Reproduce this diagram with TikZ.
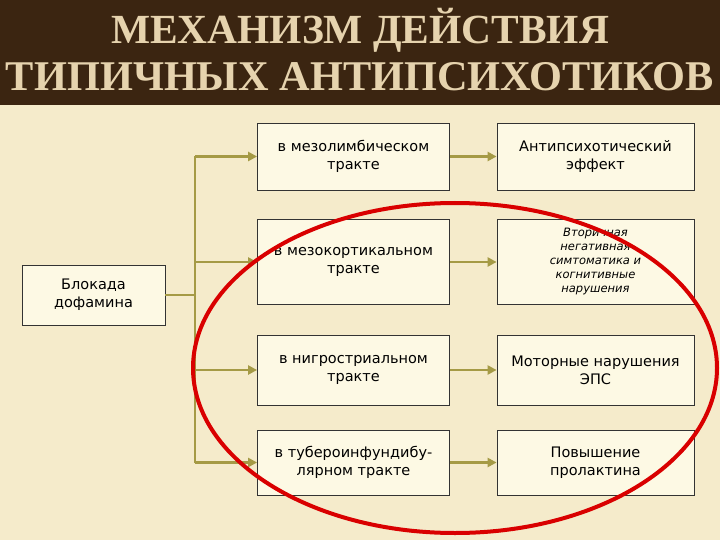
\documentclass[tikz,border=0pt]{standalone}
\usepackage{fontspec}
\setmainfont{DejaVu Sans}
\newfontfamily\titlefont{Liberation Serif}
\usetikzlibrary{arrows.meta}
\definecolor{bg}{HTML}{F5EBCB}
\definecolor{band}{HTML}{3B2511}
\definecolor{tcol}{HTML}{E6D3AE}
\definecolor{boxf}{HTML}{FDF9E4}
\definecolor{olive}{HTML}{A59A45}
\tikzset{
 bx/.style={draw=black!80,fill=boxf,line width=0.8pt,align=center,font=\fontsize{14.5}{18}\selectfont,inner sep=2pt},
 conn/.style={olive,line width=2.8pt},
 arr/.style={conn,-{Triangle[length=9pt,width=9pt]}},
 ttl/.style={font=\titlefont\bfseries\fontsize{38}{40}\selectfont,inner sep=0pt}
}
\begin{document}
\begin{tikzpicture}[x=1pt,y=-1pt]
\useasboundingbox (0,0) rectangle (720,540);
\fill[bg] (0,0) rectangle (720,540);
\fill[band] (0,0) rectangle (720,105);
% title
\node[ttl,text=tcol] (t1) at (360,30) {\resizebox{498pt}{!}{МЕХАНИЗМ ДЕЙСТВИЯ}};
\node[ttl,text=tcol] (t2) at (360,77) {\resizebox{708pt}{!}{ТИПИЧНЫХ АНТИПСИХОТИКОВ}};
% boxes
\node[bx,minimum width=143pt,minimum height=60pt] (L) at (93.5,295) {Блокада\\дофамина};
\node[bx,minimum width=192pt,minimum height=67pt] (m1) at (353.5,156.5) {в мезолимбическом\\тракте};
\node[bx,minimum width=192pt,minimum height=85pt] (m2) at (353.5,262) {в мезокортикальном\\тракте};
\node[bx,minimum width=192pt,minimum height=70pt] (m3) at (353.5,370) {в нигростриальном\\тракте};
\node[bx,minimum width=192pt,minimum height=65pt] (m4) at (353.5,462.5) {в тубероинфундибу-\\лярном тракте};
\node[bx,minimum width=197pt,minimum height=67pt] (r1) at (595.5,156.5) {Антипсихотический\\эффект};
\node[bx,minimum width=197pt,minimum height=85pt,font=\itshape\fontsize{11.5}{14}\selectfont] (r2) at (595.5,262) {Вторичная\\негативная\\симтоматика и\\когнитивные\\нарушения};
\node[bx,minimum width=197pt,minimum height=70pt] (r3) at (595.5,370) {Моторные нарушения\\ЭПС};
\node[bx,minimum width=197pt,minimum height=65pt] (r4) at (595.5,462.5) {Повышение\\пролактина};
% connectors
\coordinate (j) at (195,295);
\draw[conn] (L.east) -- (j);
\draw[conn] (195,156.5) -- (195,462.5);
\foreach \i in {1,...,4}{
  \draw[arr] (m\i.west -| j) -- (m\i.west);
  \draw[arr] (m\i.east) -- (r\i.west);
}
% red ellipse
\draw[red!85!black,line width=4pt] (455,368) ellipse [x radius=262pt,y radius=165pt];
\end{tikzpicture}
\end{document}
